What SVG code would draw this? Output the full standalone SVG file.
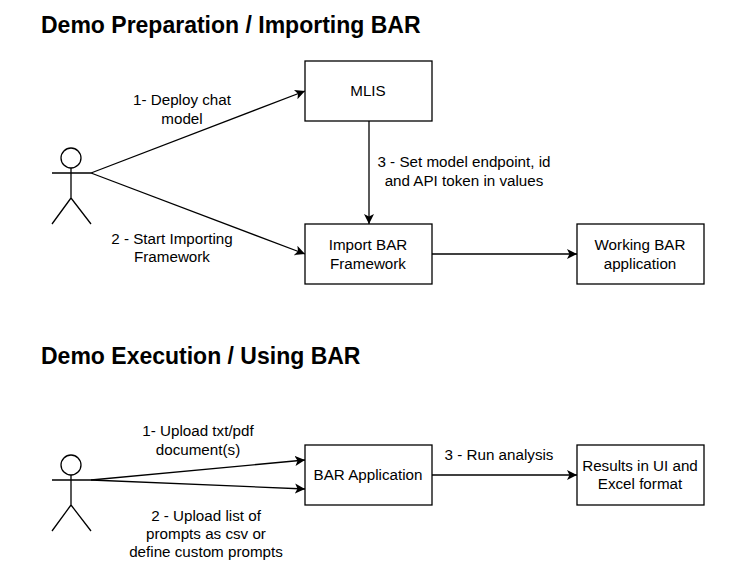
<svg xmlns="http://www.w3.org/2000/svg" width="731" height="571" viewBox="0 0 731 571">
<style>
text{font-family:"Liberation Sans",Arial,sans-serif;font-size:15.2px;fill:#000;text-anchor:middle}
text.t{font-weight:700;font-size:23px;text-anchor:start}
.b{fill:#fff;stroke:#000;stroke-width:1.3}
.c{fill:none;stroke:#000;stroke-width:1.3}
</style>
<defs><marker id="a" markerUnits="userSpaceOnUse" markerWidth="12" markerHeight="12" refX="10" refY="5.5" orient="auto"><path d="M0 0.5L10 5.5L0 10.5L2.5 5.5Z" fill="#000"/></marker></defs>
<rect width="731" height="571" fill="#fff"/>
<text class="t" x="41" y="33">Demo Preparation / Importing BAR</text>
<text class="t" x="41" y="364">Demo Execution / Using BAR</text>
<g id="connectors">
<path class="c" marker-end="url(#a)" d="M91 173L305 91"/>
<path class="c" marker-end="url(#a)" d="M91 173L305 254"/>
<path class="c" marker-end="url(#a)" d="M369 121V224"/>
<path class="c" marker-end="url(#a)" d="M432 254H577"/>
<path class="c" marker-end="url(#a)" d="M91 480L305 460"/>
<path class="c" marker-end="url(#a)" d="M91 480L305 489"/>
<path class="c" marker-end="url(#a)" d="M432 475H577"/>
<text x="182" y="105">1- Deploy chat</text><text x="182" y="124">model</text>
<text x="172" y="244">2 - Start Importing</text><text x="172" y="262">Framework</text>
<text x="464" y="167">3 - Set model endpoint, id</text><text x="464" y="186">and API token in values</text>
<text x="198" y="436">1- Upload txt/pdf</text><text x="198" y="455">document(s)</text>
<text x="206" y="521">2 - Upload list of</text><text x="206" y="539">prompts as csv or</text><text x="206" y="557">define custom prompts</text>
<text x="499" y="460">3 - Run analysis</text>
</g>
<g id="actor1"><circle class="c" cx="71" cy="158" r="10"/><path class="c" d="M71 168V198M52 173H91M71 198L52 224M71 198L91 224"/></g>
<g id="mlis"><rect class="b" x="305" y="61" width="127" height="60"/><text x="368" y="96">MLIS</text></g>
<g id="import"><rect class="b" x="305" y="224" width="127" height="60"/><text x="368" y="250">Import BAR</text><text x="368" y="269">Framework</text></g>
<g id="working"><rect class="b" x="577" y="224" width="127" height="60"/><text x="640" y="250">Working BAR</text><text x="640" y="269">application</text></g>
<g id="actor2"><circle class="c" cx="71" cy="465" r="10"/><path class="c" d="M71 475V505M52 480H91M71 505L52 531M71 505L91 531"/></g>
<g id="app"><rect class="b" x="305" y="445" width="127" height="60"/><text x="368" y="480">BAR Application</text></g>
<g id="results"><rect class="b" x="577" y="445" width="127" height="60"/><text x="640" y="471">Results in UI and</text><text x="640" y="489">Excel format</text></g>
</svg>
